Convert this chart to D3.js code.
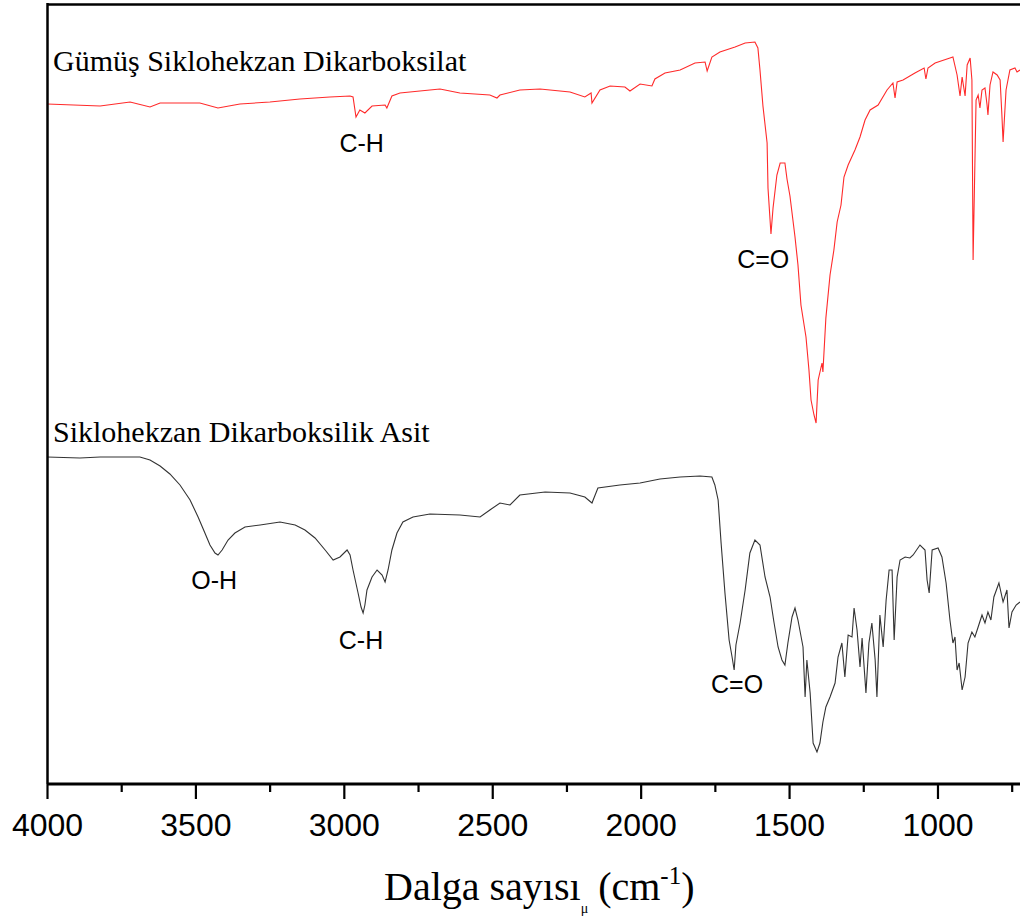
<!DOCTYPE html>
<html><head><meta charset="utf-8">
<script src="https://cdn.jsdelivr.net/npm/d3@7"></script>
<style>body{margin:0;background:#fff}svg{display:block}</style>
</head><body>
<script>
// Wavenumber (cm-1) and transmittance (a.u.)
const silverWn = [4000,3821,3720,3653,3619,3485,3424,3350,3249,3148,3047,2979,2969,2959,2946,2929,2905,2861,2855,2838,2811,2710,2676,2609,2508,2484,2474,2407,2339,2238,2188,2167,2164,2137,2103,2053,2036,2002,1962,1952,1918,1867,1817,1783,1776,1760,1733,1682,1648,1615,1605,1598,1588,1574,1571,1561,1554,1541,1530,1514,1507,1497,1480,1470,1460,1443,1433,1426,1416,1409,1402,1389,1386,1376,1362,1349,1338,1325,1315,1301,1278,1261,1244,1227,1200,1170,1150,1143,1136,1116,1076,1045,1039,1032,1008,958,948,934,924,917,907,900,890,884,880,870,863,857,850,840,833,830,823,813,799,789,783,779,769,756,739,732,722];
const silverT = [67.9,67.7,68.1,67.6,68.0,68.0,67.5,67.9,68.1,68.4,68.6,68.7,68.6,66.6,67.3,67.0,67.7,67.8,67.5,68.7,69.0,69.3,69.4,69.0,68.8,68.5,68.8,69.3,69.4,69.1,68.6,69.0,68.0,69.3,69.7,69.6,69.2,69.9,69.7,70.4,71.0,71.3,72.0,72.1,71.2,72.6,73.1,73.6,74.0,74.1,73.5,71.3,67.7,64.0,59.5,54.9,57.5,60.8,62.0,62.0,60.4,58.7,54.6,51.8,47.8,44.6,41.3,38.3,36.8,36.0,40.3,42.0,41.1,46.5,50.8,53.3,56.1,57.8,60.6,61.8,63.3,64.6,66.3,67.3,67.8,69.3,70.0,68.5,70.1,70.3,71.0,71.5,70.4,71.5,72.0,72.5,72.6,70.8,68.7,70.6,68.7,71.8,72.5,70.3,52.3,68.3,68.8,67.5,69.3,69.5,67.8,66.8,69.8,71.1,70.8,70.3,66.8,64.1,69.3,71.3,71.5,71.1,71.3];

const acidWn = [4000,3889,3821,3720,3687,3653,3619,3586,3552,3518,3491,3468,3451,3434,3424,3410,3390,3367,3333,3282,3215,3164,3131,3097,3063,3036,3013,2989,2979,2969,2952,2942,2935,2929,2922,2905,2888,2871,2861,2851,2838,2821,2801,2767,2710,2609,2541,2508,2474,2440,2407,2322,2238,2188,2164,2144,2070,2002,1935,1867,1800,1760,1750,1739,1729,1716,1702,1692,1685,1679,1665,1648,1632,1615,1598,1581,1564,1551,1537,1524,1514,1504,1490,1480,1470,1453,1446,1440,1429,1419,1406,1396,1386,1376,1362,1345,1335,1322,1312,1301,1288,1281,1271,1261,1254,1241,1231,1221,1210,1204,1194,1183,1173,1163,1153,1146,1136,1126,1109,1093,1082,1059,1042,1035,1028,1018,998,985,971,958,948,941,934,927,917,907,897,884,874,863,850,840,830,820,810,793,779,766,759,749,735,722];
const acidT = [32.6,32.5,32.6,32.6,32.6,32.3,31.7,30.9,29.8,28.3,26.6,25.0,23.8,23.0,22.8,23.3,24.3,25.0,25.6,25.8,26.1,25.8,25.3,24.5,23.3,22.3,22.6,23.3,22.8,21.3,19.0,17.6,17.0,17.8,19.3,20.6,21.3,20.8,20.1,21.3,23.3,25.0,26.1,26.6,26.9,26.8,26.6,27.3,28.0,27.8,28.8,29.1,29.0,28.6,28.0,29.5,29.8,30.0,30.4,30.6,30.7,30.6,29.8,28.3,24.0,19.0,14.3,12.6,11.3,13.8,16.0,19.3,23.0,24.3,23.8,20.6,18.6,16.1,13.6,12.3,11.8,14.0,16.6,17.5,16.3,13.6,8.6,12.3,9.0,4.0,3.1,4.0,6.1,7.6,8.6,10.0,12.6,14.0,10.6,14.8,14.6,17.5,15.3,11.6,14.5,9.0,14.0,16.0,12.3,8.6,16.8,13.6,18.3,21.3,21.3,14.3,20.6,22.3,22.6,22.5,22.8,23.8,23.3,20.3,19.0,23.3,23.5,22.6,20.0,16.3,14.0,14.6,11.3,12.0,9.3,10.6,14.0,15.1,14.6,15.6,16.8,16.0,17.1,16.3,18.6,20.0,18.1,19.3,15.5,17.1,17.8,18.1];

const majorTicks = [4000,3500,3000,2500,2000,1500,1000];
const minorTicks = [3750,3250,2750,2250,1750,1250,750];
const seriesNames = ["Gümüş Siklohekzan Dikarboksilat","Siklohekzan Dikarboksilik Asit"];
const annotations = [
  {text:"C-H", wn:2940, t:63.1},
  {text:"C=O", wn:1587, t:51.5},
  {text:"O-H", wn:3437, t:19.4},
  {text:"C-H", wn:2942, t:13.4},
  {text:"C=O", wn:1675, t:9.0}
];

const W = 1020, H = 919;
const svg = d3.select("body").append("svg").attr("width", W).attr("height", H);
const x = d3.scaleLinear().domain([4000, 722]).range([47, 1020]);
const y = d3.scaleLinear().domain([0, 78.3]).range([783, 0]);

const line = d3.line().x(d => x(d[0])).y(d => y(d[1]));
const silver = silverWn.map((w,i) => [w, silverT[i]]);
const acid = acidWn.map((w,i) => [w, acidT[i]]);

svg.append("path").datum(acid).attr("d", line).attr("fill","none")
  .attr("stroke","#333").attr("stroke-width",1.1);
svg.append("path").datum(silver).attr("d", line).attr("fill","none")
  .attr("stroke","#ff2a2a").attr("stroke-width",1.1);

// frame
svg.append("line").attr("x1",47).attr("x2",W).attr("y1",4.5).attr("y2",4.5)
  .attr("stroke","#000").attr("stroke-width",2.5);
svg.append("line").attr("x1",47.5).attr("x2",47.5).attr("y1",3).attr("y2",784)
  .attr("stroke","#000").attr("stroke-width",2.5);

// x axis
const axG = svg.append("g").attr("transform","translate(0,784)");
axG.call(d3.axisBottom(x).tickValues(majorTicks).tickSize(15).tickPadding(14).tickFormat(d3.format("d")));
axG.select(".domain").attr("stroke-width",3).attr("d","M47,0H1020");
axG.selectAll(".tick line").attr("stroke-width",2.2);
axG.selectAll(".tick text").attr("font-family","Liberation Sans, Arial, sans-serif").attr("font-size",32).attr("fill","#000");
const minG = svg.append("g").attr("transform","translate(0,784)");
minG.call(d3.axisBottom(x).tickValues(minorTicks).tickSize(8).tickFormat(""));
minG.select(".domain").remove();
minG.selectAll(".tick line").attr("stroke-width",2.2);

// series labels
svg.append("text").attr("x",53).attr("y",71).text(seriesNames[0])
  .attr("font-family","Liberation Serif, Times New Roman, serif").attr("font-size",30);
svg.append("text").attr("x",53).attr("y",442).text(seriesNames[1])
  .attr("font-family","Liberation Serif, Times New Roman, serif").attr("font-size",30);

// annotations
svg.selectAll("text.ann").data(annotations).enter().append("text").attr("class","ann")
  .attr("x", d => x(d.wn)).attr("y", d => y(d.t)).attr("text-anchor","middle")
  .attr("font-family","Liberation Sans, Arial, sans-serif").attr("font-size",25).text(d => d.text);

// axis title
const tt = svg.append("text").attr("x",384).attr("y",900)
  .attr("font-family","Liberation Serif, Times New Roman, serif").attr("font-size",40);
tt.append("tspan").text("Dalga sayısı");
tt.append("tspan").attr("font-size",14).attr("dy",13).text("μ");
tt.append("tspan").attr("dy",-13).text(" (cm");
tt.append("tspan").attr("font-size",25).attr("dy",-16).text("-1");
tt.append("tspan").attr("dy",16).text(")");
</script>
</body></html>
